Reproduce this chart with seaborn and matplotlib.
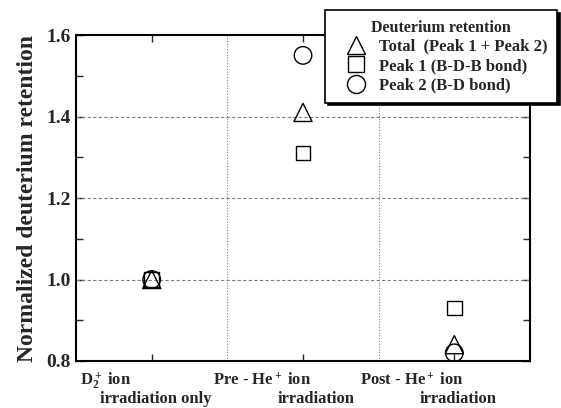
import numpy as np
import pandas as pd
import matplotlib.pyplot as plt
import seaborn as sns
from matplotlib.lines import Line2D
from matplotlib.ticker import MultipleLocator, FixedLocator, FormatStrFormatter
from matplotlib import transforms

# data
conditions = ['D2 only', 'Pre-He', 'Post-He']
x_pos = [1, 3, 5]
total = [1.00, 1.41, 0.84]
peak1 = [1.00, 1.31, 0.93]
peak2 = [1.00, 1.55, 0.82]
series_names = ['Total  (Peak 1 + Peak 2)', 'Peak 1 (B-D-B bond)', 'Peak 2 (B-D bond)']

sns.set_style('ticks')
plt.rcParams['font.family'] = ['Liberation Serif', 'DejaVu Serif']
plt.rcParams['font.weight'] = 'bold'
plt.rcParams['mathtext.fontset'] = 'custom'
plt.rcParams['mathtext.rm'] = 'Liberation Serif:bold'
plt.rcParams['mathtext.it'] = 'Liberation Serif:bold'
plt.rcParams['mathtext.bf'] = 'Liberation Serif:bold'

fig = plt.figure(figsize=(5.61, 4.08), dpi=100)
ax = fig.add_axes([0.1355, 0.1152, 0.8092, 0.799])

markers = ['^', 's', 'o']
sizes = [170, 110, 160]
for vals, m, s in zip([total, peak1, peak2], markers, sizes):
    df = pd.DataFrame({'x': x_pos, 'y': vals})
    sns.scatterplot(data=df, x='x', y='y', marker=m, s=s, facecolor='none',
                    edgecolor='black', linewidth=1.0, ax=ax, zorder=3)

ax.set_xlim(0, 6)
ax.set_ylim(0.8, 1.6)
ax.yaxis.set_major_locator(MultipleLocator(0.2))
ax.yaxis.set_minor_locator(MultipleLocator(0.1))
ax.yaxis.set_major_formatter(FormatStrFormatter('%.1f'))
ax.xaxis.set_major_locator(FixedLocator([2, 4]))
ax.xaxis.set_minor_locator(FixedLocator([1, 3, 5]))
ax.set_xticklabels([])
ax.tick_params(which='both', direction='in', top=True, right=True, width=1)
ax.tick_params(which='major', length=0, axis='x')
ax.tick_params(which='major', length=6, axis='y')
ax.tick_params(which='minor', length=5)
ax.tick_params(axis='y', labelsize=14, pad=4)

for yv in [1.0, 1.2, 1.4]:
    ax.axhline(yv, color='gray', linestyle=(0, (3, 2)), linewidth=0.8, zorder=1)
for xv in [2, 4]:
    ax.axvline(xv, color='gray', linestyle=(0, (1, 1.5)), linewidth=0.8, zorder=1)

for sp in ax.spines.values():
    sp.set_linewidth(1.5)
    sp.set_color('black')

ax.set_xlabel('')
ax.set_ylabel('Normalized deuterium retention', fontsize=17, fontweight='bold', labelpad=6)

# category labels under the axis
trans = transforms.blended_transform_factory(ax.transData, ax.transAxes)
lab_kw = dict(transform=trans, fontsize=12, fontweight='bold', ha='left', va='baseline')
ax.text(0.05, -0.074, r'D$_2^+$ ion', **lab_kw)
ax.text(0.32, -0.128, 'irradiation only', **lab_kw)
ax.text(1.81, -0.074, r'Pre - He$^+$ ion', **lab_kw)
ax.text(2.67, -0.128, 'irradiation', **lab_kw)
ax.text(3.75, -0.074, r'Post - He$^+$ ion', **lab_kw)
ax.text(4.54, -0.128, 'irradiation', **lab_kw)

handles = [Line2D([], [], marker=m, linestyle='none', markerfacecolor='none',
                  markeredgecolor='black', markersize=ms, markeredgewidth=1.0)
           for m, ms in zip(markers, [13, 11, 13])]
leg = fig.legend(handles, series_names, title='Deuterium retention',
                 loc='upper right', bbox_to_anchor=(1.0075, 0.995),
                 fontsize=12, title_fontproperties={'weight': 'bold', 'size': 11.5},
                 frameon=True, fancybox=False, edgecolor='black', framealpha=1,
                 shadow={'color': 'black', 'alpha': 1}, handletextpad=0.1,
                 labelspacing=0.2, borderpad=0.55, handlelength=2.6)
leg.get_frame().set_linewidth(1.2)

fig.savefig('out.png', dpi=100)
